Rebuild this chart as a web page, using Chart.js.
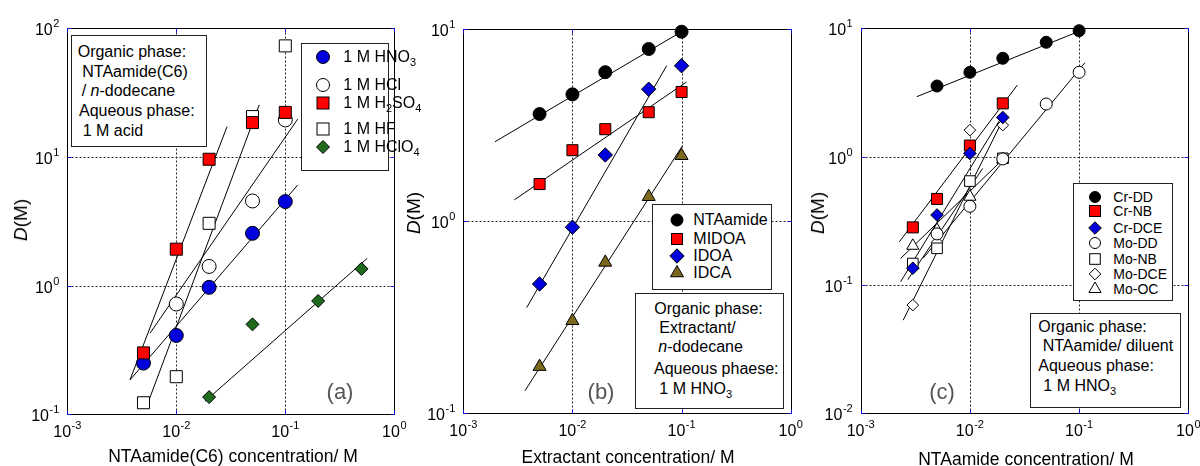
<!DOCTYPE html>
<html>
<head>
<meta charset="utf-8">
<script src="https://cdn.jsdelivr.net/npm/chart.js@4.4.1/dist/chart.umd.min.js"></script>
<style>
  html, body { margin: 0; padding: 0; background: #fff; }
  #wrap { position: relative; width: 1200px; height: 466px; overflow: hidden;
          font-family: "Liberation Sans", Arial, sans-serif; color: #000; }
  #wrap canvas { position: absolute; top: 0; }
  .box { position: absolute; background: #fff; border: 1px solid #222; box-sizing: border-box; }
  .ln { position: absolute; white-space: nowrap; font-size: 16px; line-height: 20px; }
  .ln.sm { font-size: 14px; }
  .ln sub { font-size: 11px; vertical-align: -4px; line-height: 0; }
  .tag { position: absolute; font-size: 22px; color: #555; transform: translate(-50%, -50%); }
  .xt { position: absolute; font-size: 17.5px; white-space: nowrap; transform: translate(-50%, -50%); }
  .yt { position: absolute; font-size: 19px; white-space: nowrap; transform: translate(-50%, -50%) rotate(-90deg); }
  .mk { position: absolute; }
</style>
</head>
<body>
<div id="wrap">
  <canvas id="chartA" width="412" height="466" style="left:0px"></canvas>
  <canvas id="chartB" width="412" height="466" style="left:400px"></canvas>
  <canvas id="chartC" width="400" height="466" style="left:800px"></canvas>
</div>
<script>
// ---------- (a) NTAamide(C6) / n-dodecane, 1 M acids ----------
const concA      = [0.005, 0.01, 0.02, 0.05, 0.1];
const dHNO3      = [0.25, 0.41, 0.97, 2.55, 4.5];
const concHCl    = [0.01, 0.02, 0.05, 0.1];
const dHCl       = [0.72, 1.41, 4.55, 19.4];
const dH2SO4     = [0.30, 1.92, 9.6, 18.5, 22.2];
const dHF        = [0.123, 0.196, 3.05, 20.6, 73];
const concHClO4  = [0.02, 0.05, 0.2, 0.5];
const dHClO4     = [0.136, 0.50, 0.76, 1.35];
// fitted lines: [concentration, D] at both ends
const fitHNO3    = [[0.00376, 0.185], [0.13, 6.06]];
const fitHCl     = [[0.00574, 0.427], [0.13, 19.7]];
const fitH2SO4   = [[0.00376, 0.185], [0.0292, 17.2]];
const fitHF      = [[0.00534, 0.115], [0.0577, 25.4]];
const fitHClO4   = [[0.0183, 0.126], [0.565, 1.63]];
const labelsA    = ['1 M HNO<sub>3</sub>', '1 M HCl', '1 M H<sub>2</sub>SO<sub>4</sub>', '1 M HF', '1 M HClO<sub>4</sub>'];

// ---------- (b) extractants / n-dodecane, 1 M HNO3 ----------
const concB      = [0.005, 0.01, 0.02, 0.05, 0.1];
const dNTAamide  = [3.61, 4.57, 5.96, 7.87, 9.68];
const dMIDOA     = [1.56, 2.34, 3.01, 3.69, 4.70];
const dIDOA      = [0.471, 0.93, 2.21, 4.86, 6.44];
const dIDCA      = [0.175, 0.303, 0.61, 1.34, 2.19];
const fitNTAamide = [[0.00195, 2.59], [0.11, 10.0]];
const fitMIDOA   = [[0.00293, 1.29], [0.111, 5.30]];
const fitIDOA    = [[0.00381, 0.355], [0.073, 6.44]];
const fitIDCA    = [[0.00367, 0.131], [0.102, 2.47]];
const labelsB    = ['NTAamide', 'MIDOA', 'IDOA', 'IDCA'];

// ---------- (c) NTAamide / diluents, Cr and Mo ----------
const concCrDD   = [0.005, 0.01, 0.02, 0.05, 0.1];
const dCrDD      = [3.55, 4.54, 5.84, 7.78, 9.58];
const concMoDD   = [0.005, 0.01, 0.02, 0.05, 0.1];
const dMoDD      = [0.25, 0.41, 0.96, 2.57, 4.54];
const concLow    = [0.003, 0.005, 0.01, 0.02];
const dCrNB      = [0.281, 0.468, 1.22, 2.60];
const dCrDCE     = [0.135, 0.351, 1.06, 2.02];
const dMoNB      = [0.147, 0.193, 0.645, 0.97];
const dMoDCE     = [0.0697, 0.215, 1.61, 1.76];
const dMoOC      = [0.202, 0.268, 0.487, 0.95];
const fitCrDD    = [[0.00326, 2.93], [0.113, 9.87]];
const fitMoDD    = [[0.00374, 0.162], [0.113, 5.39]];
const fitCrNB    = [[0.00226, 0.217], [0.0272, 3.61]];
const fitCrDCE   = [[0.00232, 0.106], [0.02, 2.11]];
const fitMoDCE   = [[0.00245, 0.0532], [0.02, 1.93]];
const fitMoNB    = [[0.0027, 0.11], [0.0131, 0.81]];
const fitMoOC    = [[0.00232, 0.161], [0.022, 1.03]];
const labelsC    = ['Cr-DD', 'Cr-NB', 'Cr-DCE', 'Mo-DD', 'Mo-NB', 'Mo-DCE', 'Mo-OC'];

// axis decades
const xDecades   = [1e-3, 1e-2, 1e-1, 1];
const xExponents = ['-3', '-2', '-1', '0'];
const yDecadesA  = [1e-1, 1, 10, 100];
const yExpA      = ['-1', '0', '1', '2'];
const yDecadesB  = [1e-1, 1, 10];
const yExpB      = ['-1', '0', '1'];
const yDecadesC  = [1e-2, 1e-1, 1, 10];
const yExpC      = ['-2', '-1', '0', '1'];

// ---------- marker styles ----------
const BLUE = '#0000DD', RED = '#FF0000', GREEN = '#1E6B1E', OLIVE = '#7D691E';
const stA = [
  { shape: 'circle',  r: 7,   fill: BLUE },
  { shape: 'circle',  r: 7,   fill: '#fff' },
  { shape: 'rect',    r: 8.5, fill: RED },
  { shape: 'rect',    r: 8.5, fill: '#fff' },
  { shape: 'rectRot', r: 6.5, fill: GREEN }
];
const stB = [
  { shape: 'circle',   r: 6.5, fill: '#000' },
  { shape: 'rect',     r: 7.8, fill: RED },
  { shape: 'rectRot',  r: 7.2, fill: BLUE },
  { shape: 'triangle', r: 7.5, fill: OLIVE }
];
const stC = [
  { shape: 'circle',   r: 6,   fill: '#000' },
  { shape: 'rect',     r: 7.8, fill: RED },
  { shape: 'rectRot',  r: 6.3, fill: BLUE },
  { shape: 'circle',   r: 6,   fill: '#fff' },
  { shape: 'rect',     r: 7.5, fill: '#fff' },
  { shape: 'rectRot',  r: 5.8, fill: '#fff' },
  { shape: 'triangle', r: 7,   fill: '#fff' }
];

function pts(xs, ys) { return xs.map((x, i) => ({ x: x, y: ys[i] })); }
function seg(f) { return f.map(p => ({ x: p[0], y: p[1] })); }
function markers(xs, ys, st, order) {
  return { data: pts(xs, ys), showLine: false, pointStyle: st.shape, pointRadius: st.r,
           pointBackgroundColor: st.fill, pointBorderColor: '#000', pointBorderWidth: 1,
           clip: false, order: order };
}
function fit(f) {
  return { data: seg(f), showLine: true, borderColor: '#000', borderWidth: 1,
           pointRadius: 0, clip: false, order: 20 };
}

// decade grid, frame, blue inward ticks and "10^n" tick labels
const decadeAxes = {
  id: 'decadeAxes',
  beforeDatasetsDraw(chart, args, o) {
    const { ctx, chartArea: a, scales: { x, y } } = chart;
    const L = Math.round(a.left) + 0.5, R = Math.round(a.right) + 0.5;
    const T = Math.round(a.top) + 0.5, B = Math.round(a.bottom) + 0.5;
    ctx.save();
    ctx.lineWidth = 1;
    ctx.strokeStyle = '#222';
    ctx.setLineDash([2, 2]);
    const xs = o.xTicks.map(v => Math.round(x.getPixelForValue(v)) + 0.5);
    const ys = o.yTicks.map(v => Math.round(y.getPixelForValue(v)) + 0.5);
    ctx.beginPath();
    xs.forEach(p => { if (p > L + 1 && p < R - 1) { ctx.moveTo(p, T); ctx.lineTo(p, B); } });
    ys.forEach(p => { if (p > T + 1 && p < B - 1) { ctx.moveTo(L, p); ctx.lineTo(R, p); } });
    ctx.stroke();
    ctx.setLineDash([]);
    ctx.strokeStyle = '#000';
    ctx.strokeRect(L, T, R - L, B - T);
    ctx.strokeStyle = '#1010E0';
    ctx.beginPath();
    xs.forEach(p => { ctx.moveTo(p, T); ctx.lineTo(p, T + 4); ctx.moveTo(p, B); ctx.lineTo(p, B - 4); });
    ys.forEach(p => { ctx.moveTo(L, p); ctx.lineTo(L + 4, p); ctx.moveTo(R, p); ctx.lineTo(R - 4, p); });
    ctx.stroke();

    const big = '16px "Liberation Sans", Arial, sans-serif';
    const small = '11px "Liberation Sans", Arial, sans-serif';
    ctx.fillStyle = '#000';
    ctx.textBaseline = 'alphabetic';
    ctx.textAlign = 'left';
    function label(exp, left, base) {
      ctx.font = big; ctx.fillText('10', left, base);
      const w = ctx.measureText('10').width;
      ctx.font = small; ctx.fillText(exp, left + w + 0.5, base - 8);
    }
    function width(exp) {
      ctx.font = big; const w1 = ctx.measureText('10').width;
      ctx.font = small; return w1 + 0.5 + ctx.measureText(exp).width;
    }
    o.xTicks.forEach((v, i) => {
      const p = x.getPixelForValue(v), w = width(o.xExp[i]);
      label(o.xExp[i], p - w / 2, a.bottom + 23);
    });
    o.yTicks.forEach((v, i) => {
      const p = y.getPixelForValue(v), w = width(o.yExp[i]);
      label(o.yExp[i], a.left - 8 - w, p + 7);
    });
    ctx.restore();
  }
};

function makeChart(id, datasets, pad, yMin, yMax, yTicks, yExp) {
  return new Chart(document.getElementById(id), {
    type: 'scatter',
    data: { datasets: datasets },
    options: {
      responsive: false, animation: false, devicePixelRatio: 1,
      layout: { padding: pad },
      scales: {
        x: { type: 'logarithmic', min: 1e-3, max: 1, display: false },
        y: { type: 'logarithmic', min: yMin, max: yMax, display: false }
      },
      plugins: {
        legend: { display: false }, tooltip: { enabled: false },
        decadeAxes: { xTicks: xDecades, xExp: xExponents, yTicks: yTicks, yExp: yExp }
      }
    },
    plugins: [decadeAxes]
  });
}

makeChart('chartA', [
  markers(concA, dH2SO4, stA[2], 1),
  markers(concA, dHNO3, stA[0], 2),
  markers(concHCl, dHCl, stA[1], 3),
  markers(concA, dHF, stA[3], 4),
  markers(concHClO4, dHClO4, stA[4], 5),
  fit(fitHNO3), fit(fitHCl), fit(fitH2SO4), fit(fitHF), fit(fitHClO4)
], { left: 67.3, right: 17.7, top: 28.3, bottom: 51.7 }, 0.1, 100, yDecadesA, yExpA);

makeChart('chartB', [
  markers(concB, dNTAamide, stB[0], 1),
  markers(concB, dMIDOA, stB[1], 2),
  markers(concB, dIDOA, stB[2], 3),
  markers(concB, dIDCA, stB[3], 4),
  fit(fitNTAamide), fit(fitMIDOA), fit(fitIDOA), fit(fitIDCA)
], { left: 63.3, right: 21.3, top: 29, bottom: 52.7 }, 0.1, 10, yDecadesB, yExpB);

makeChart('chartC', [
  markers(concCrDD, dCrDD, stC[0], 1),
  markers(concLow, dCrDCE, stC[2], 2),
  markers(concLow, dCrNB, stC[1], 3),
  markers(concMoDD, dMoDD, stC[3], 4),
  markers(concLow, dMoNB, stC[4], 5),
  markers(concLow, dMoDCE, stC[5], 6),
  markers(concLow, dMoOC, stC[6], 7),
  fit(fitCrDD), fit(fitMoDD), fit(fitCrNB), fit(fitCrDCE), fit(fitMoDCE), fit(fitMoNB), fit(fitMoOC)
], { left: 60.7, right: 11.7, top: 28.3, bottom: 52.7 }, 0.01, 10, yDecadesC, yExpC);

// ---------- text: legends, condition boxes, axis titles ----------
const wrap = document.getElementById('wrap');
function add(html) { wrap.insertAdjacentHTML('beforeend', html); }
function box(l, t, r, b) { add(`<div class="box" style="left:${l}px;top:${t}px;width:${r - l}px;height:${b - t}px"></div>`); }
function line(x, cy, html, cls) { add(`<div class="ln ${cls || ''}" style="left:${x}px;top:${cy - 10}px">${html}</div>`); }
function marker(cx, cy, st) {
  const c = 10, r = st.r;
  let s;
  if (st.shape === 'circle') s = `<circle cx="${c}" cy="${c}" r="${r - 0.5}"/>`;
  else if (st.shape === 'rect') { const h = r * Math.SQRT1_2; s = `<rect x="${c - h}" y="${c - h}" width="${2 * h}" height="${2 * h}"/>`; }
  else if (st.shape === 'rectRot') s = `<polygon points="${c},${c - r} ${c + r},${c} ${c},${c + r} ${c - r},${c}"/>`;
  else s = `<polygon points="${c},${c - r} ${c + r * 0.866},${c + r / 2} ${c - r * 0.866},${c + r / 2}"/>`;
  add(`<svg class="mk" width="20" height="20" style="left:${cx - 10}px;top:${cy - 10}px"><g fill="${st.fill}" stroke="#000" stroke-width="1">${s}</g></svg>`);
}
function legend(l, t, r, b, mx, tx, rows, labels, styles, cls) {
  box(l, t, r, b);
  labels.forEach((lab, i) => { marker(mx, rows[i], styles[i]); line(tx, rows[i], lab, cls); });
}

// (a)
box(71, 35, 207, 147);
line(77.7, 51.7, 'Organic phase:');
line(82.3, 71.5, 'NTAamide(C6)');
line(81.7, 90.5, '/ <i>n</i>-dodecane');
line(79, 111, 'Aqueous phase:');
line(82.7, 130.5, '1 M acid');
legend(301, 43, 389, 171, 323.3, 343.3, [56.7, 85, 102.7, 129, 147.3], labelsA, stA);
add('<div class="tag" style="left:340px;top:392px">(a)</div>');
add('<div class="xt" style="left:233px;top:456px">NTAamide(C6) concentration/ M</div>');
add('<div class="yt" style="left:21px;top:220px"><i>D</i>(M)</div>');

// (b)
legend(652, 204, 772, 290, 676.7, 693.3, [220, 238.5, 256, 273.3], labelsB, stB);
box(635, 293, 784, 409);
line(654.3, 309.3, 'Organic phase:');
line(659.3, 328.3, 'Extractant/');
line(658.3, 347.3, '<i>n</i>-dodecane');
line(654, 368.5, 'Aqueous phaese:');
line(659.3, 388.5, '1 M HNO<sub>3</sub>');
add('<div class="tag" style="left:601px;top:392px">(b)</div>');
add('<div class="xt" style="left:628px;top:456.5px">Extractant concentration/ M</div>');
add('<div class="yt" style="left:414px;top:213px"><i>D</i>(M)</div>');

// (c)
legend(1073, 183, 1173, 301, 1095, 1113.3, [196.7, 211, 227.5, 243.3, 259.3, 274.3, 289.3], labelsC, stC, 'sm');
box(1030, 313, 1181, 408);
line(1038.3, 326.7, 'Organic phase:');
line(1042.7, 345.7, 'NTAamide/ diluent');
line(1038.3, 365.5, 'Aqueous phase:');
line(1043.3, 386, '1 M HNO<sub>3</sub>');
add('<div class="tag" style="left:942px;top:392px">(c)</div>');
add('<div class="xt" style="left:1026px;top:459px">NTAamide concentration/ M</div>');
add('<div class="yt" style="left:818px;top:213px"><i>D</i>(M)</div>');
</script>
</body>
</html>
